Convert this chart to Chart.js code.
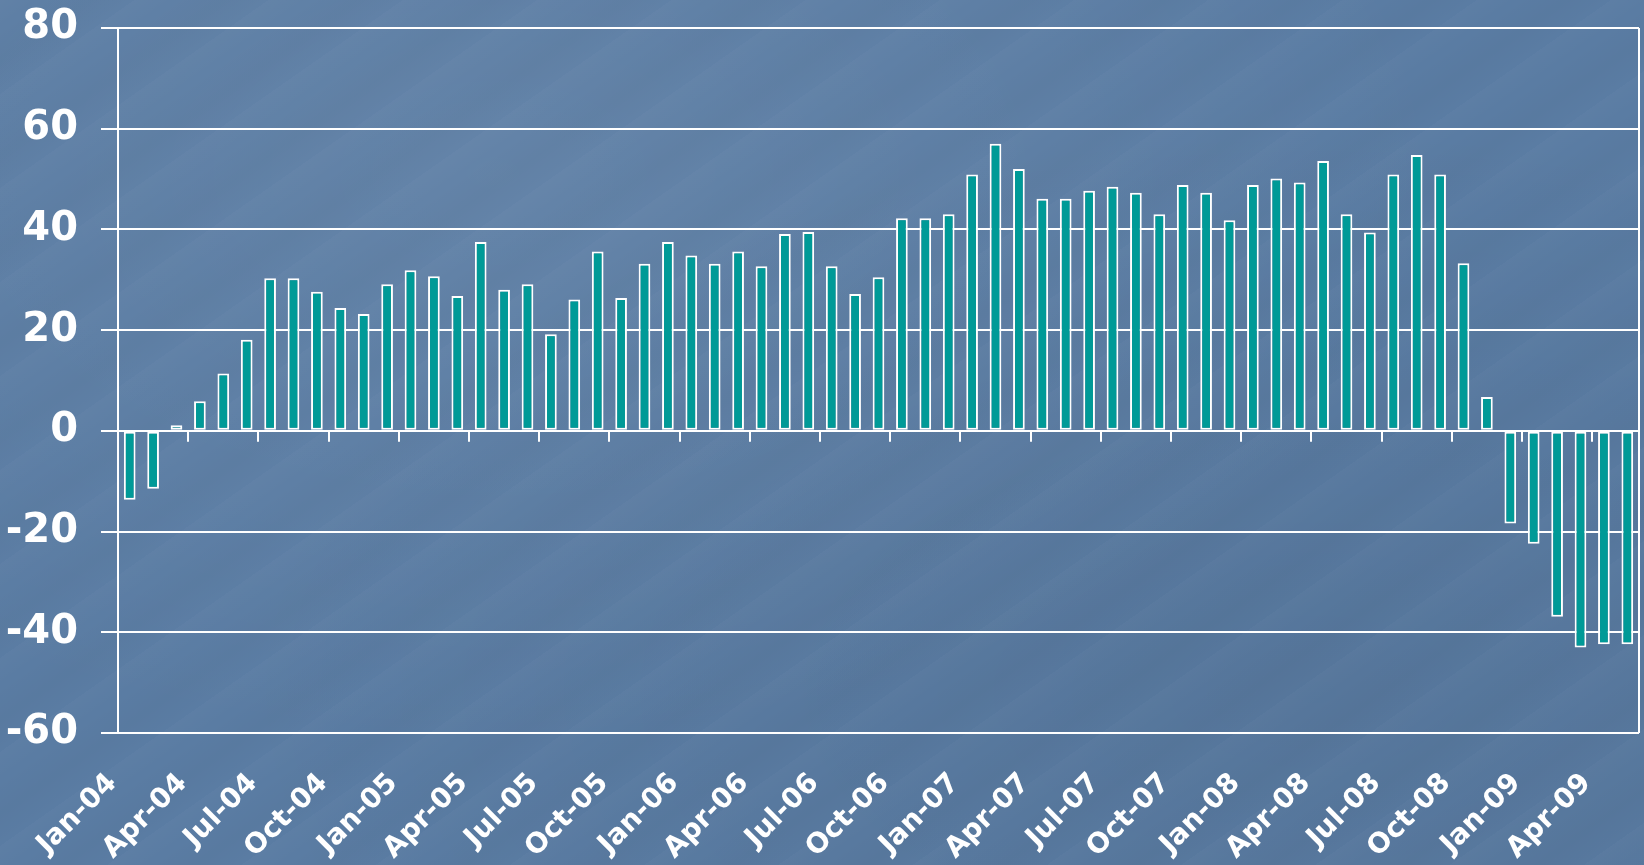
<!DOCTYPE html>
<html>
<head>
<meta charset="utf-8">
<title>Monthly balance, Jan-04 to May-09</title>
<script src="https://cdn.jsdelivr.net/npm/chart.js@4.4.1/dist/chart.umd.min.js"></script>
<style>
	html, body { margin: 0; padding: 0; }
	body {
		width: 1644px;
		height: 865px;
		overflow: hidden;
		background-color: #5a7ca3;
		background-image:
			repeating-linear-gradient( 145deg, rgba(255,255,255,0.02) 0px, rgba(255,255,255,0) 23px, rgba(0,0,0,0.02) 51px, rgba(255,255,255,0) 77px ),
			radial-gradient( ellipse at 30% 20%, rgba(255,255,255,0.06), rgba(255,255,255,0) 60% ),
			radial-gradient( ellipse at 80% 80%, rgba(0,0,0,0.05), rgba(0,0,0,0) 60% );
	}
	#wrap { position: relative; width: 1644px; height: 865px; }
</style>
</head>
<body>
<div id="wrap"><canvas id="chart"></canvas></div>
<script>
( function () {
	'use strict';

	// month labels, one per bar
	const months = [
		'Jan-04', 'Feb-04', 'Mar-04', 'Apr-04', 'May-04', 'Jun-04', 'Jul-04', 'Aug-04', 'Sep-04', 'Oct-04', 'Nov-04', 'Dec-04',
		'Jan-05', 'Feb-05', 'Mar-05', 'Apr-05', 'May-05', 'Jun-05', 'Jul-05', 'Aug-05', 'Sep-05', 'Oct-05', 'Nov-05', 'Dec-05',
		'Jan-06', 'Feb-06', 'Mar-06', 'Apr-06', 'May-06', 'Jun-06', 'Jul-06', 'Aug-06', 'Sep-06', 'Oct-06', 'Nov-06', 'Dec-06',
		'Jan-07', 'Feb-07', 'Mar-07', 'Apr-07', 'May-07', 'Jun-07', 'Jul-07', 'Aug-07', 'Sep-07', 'Oct-07', 'Nov-07', 'Dec-07',
		'Jan-08', 'Feb-08', 'Mar-08', 'Apr-08', 'May-08', 'Jun-08', 'Jul-08', 'Aug-08', 'Sep-08', 'Oct-08', 'Nov-08', 'Dec-08',
		'Jan-09', 'Feb-09', 'Mar-09', 'Apr-09', 'May-09',
	];

	const values = [
		-13.7, -11.5, 1.1, 5.9, 11.4, 18.1, 30.3, 30.3, 27.6, 24.4, 23.2, 29.1,
		31.9, 30.7, 26.8, 37.5, 28.0, 29.1, 19.2, 26.1, 35.6, 26.4, 33.2, 37.5,
		34.8, 33.2, 35.6, 32.7, 39.1, 39.5, 32.7, 27.2, 30.5, 42.2, 42.2, 43.0,
		50.9, 57.0, 52.0, 46.1, 46.1, 47.7, 48.5, 47.3, 43.0, 48.8, 47.3, 41.8,
		48.8, 50.1, 49.3, 53.6, 43.0, 39.4, 50.9, 54.8, 50.9, 33.3, 6.7, -18.4,
		-22.4, -36.9, -43.0, -42.4, -42.4,
	];

	const yMin  = -60;
	const yMax  = 80;
	const yStep = 20;
	const labelEvery = 3; // a label and a zero-line tick every quarter

	const white = '#ffffff';
	const teal  = '#009a97';

	// right edge of the plot frame + small ticks hanging off the zero line
	const framePlugin = {
		id: 'frame',
		afterDatasetsDraw: function ( chart ) {
			const ctx  = chart.ctx;
			const area = chart.chartArea;
			const x    = chart.scales.x;
			const y0   = chart.scales.y.getPixelForValue( 0 );

			ctx.save();
			ctx.strokeStyle = white;
			ctx.lineWidth   = 2;

			ctx.beginPath();
			ctx.moveTo( area.right, area.top );
			ctx.lineTo( area.right, area.bottom );
			ctx.stroke();

			ctx.beginPath();
			for ( let i = labelEvery; i < months.length; i += labelEvery ) {
				const bx = Math.round( ( x.getPixelForValue( i - 1 ) + x.getPixelForValue( i ) ) / 2 );
				ctx.moveTo( bx, y0 );
				ctx.lineTo( bx, y0 + 11 );
			}
			ctx.stroke();
			ctx.restore();
		},
	};

	new Chart( document.getElementById( 'chart' ), {
		type: 'bar',
		data: {
			labels: months,
			datasets: [ {
				data:               values,
				backgroundColor:    teal,
				borderColor:        white,
				borderWidth:        2,
				borderSkipped:      false,
				barPercentage:      0.5,
				categoryPercentage: 1,
			} ],
		},
		options: {
			responsive:          true,
			maintainAspectRatio: false,
			animation:           false,
			layout: { padding: { top: 28, right: 5, left: 0, bottom: 0 } },
			plugins: {
				legend:  { display: false },
				tooltip: { enabled: false },
			},
			scales: {
				x: {
					grid:   { display: false, drawTicks: false },
					border: { display: false },
					ticks: {
						autoSkip:    false,
						minRotation: 45,
						maxRotation: 45,
						padding:     34,
						labelOffset: -17,
						color:       white,
						font:        { family: "'DejaVu Sans', sans-serif", size: 28, weight: 'bold' },
						callback: function ( val, i ) {
							return i % labelEvery === 0 ? this.getLabelForValue( val ) : '';
						},
					},
					afterFit: function ( scale ) {
						scale.height       = 132;
						scale.paddingLeft  = 0;
						scale.paddingRight = 0;
					},
				},
				y: {
					min: yMin,
					max: yMax,
					grid: {
						color:      white,
						lineWidth:  2,
						tickLength: 17,
						tickColor:  white,
					},
					border: { display: true, color: white, width: 2 },
					ticks: {
						stepSize: yStep,
						padding:  23,
						color:    white,
						font:     { family: "'DejaVu Sans', sans-serif", size: 40, weight: 'bold' },
					},
					afterFit: function ( scale ) {
						scale.width         = 118;
						scale.paddingTop    = 0;
						scale.paddingBottom = 0;
					},
				},
			},
		},
		plugins: [ framePlugin ],
	} );
} )();
</script>
</body>
</html>
